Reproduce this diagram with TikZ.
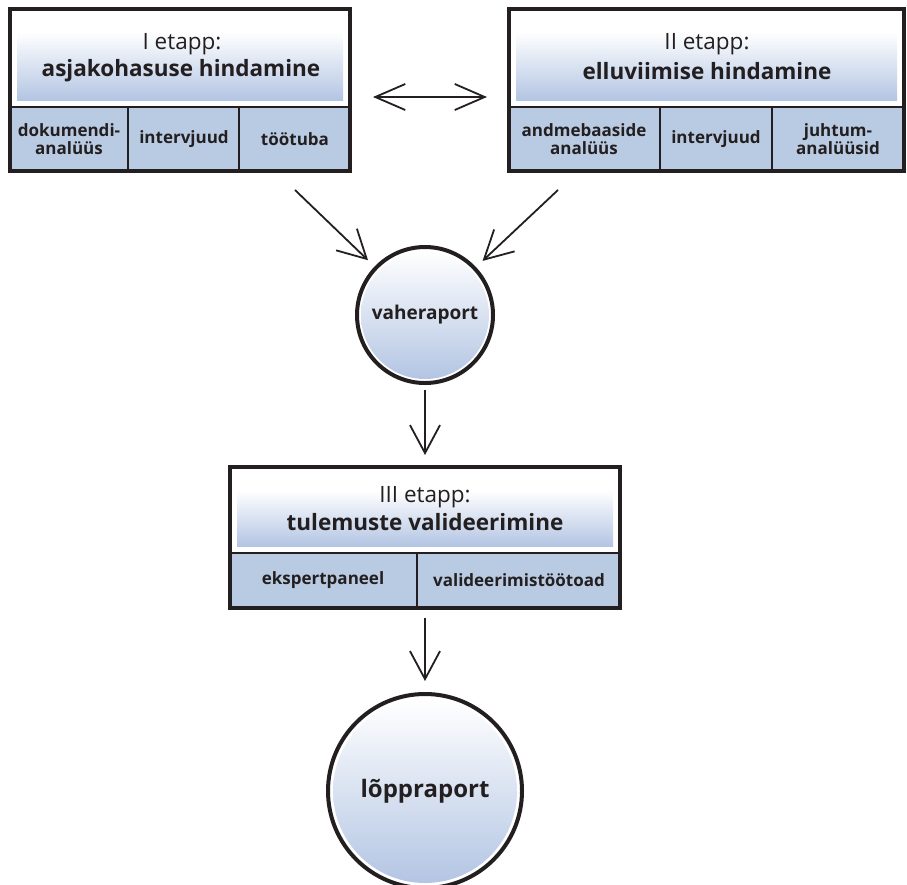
\documentclass[tikz,border=0pt]{standalone}
\usepackage{fontspec}
\setmainfont{Open Sans}
\usetikzlibrary{arrows.meta,positioning,shapes}

\definecolor{cellblue}{HTML}{B9CBE2}
\definecolor{shadeblue}{HTML}{B3C5E3}
\definecolor{ink}{HTML}{231F20}

\tikzset{
	outerbox/.style={line width=4pt, draw=ink},
	cellline/.style={line width=2pt, draw=ink},
	flowarrow/.style={line width=1.8pt, draw=ink, -{Straight Barb[length=28pt,width=30pt,line width=1.8pt]}},
	bothways/.style={line width=1.8pt, draw=ink, {Straight Barb[length=30pt,width=26pt,line width=1.8pt]}-{Straight Barb[length=30pt,width=26pt,line width=1.8pt]}},
	stagetext/.style={font=\fontsize{22.5}{24}\selectfont, text=ink},
	stagename/.style={font=\bfseries\fontsize{22.5}{26}\selectfont, text=ink},
	celltext/.style={font=\bfseries\fontsize{17}{17.5}\selectfont, text=ink, align=center},
	report/.style={circle, draw=ink, line width=4pt, text=ink, font=\bfseries\fontsize{19}{22}\selectfont},
}

\begin{document}
\begin{tikzpicture}[x=1pt,y=-1pt]
						\useasboundingbox (0,0) rectangle (907,884);

						\fill[cellblue] (10,107) rectangle (350,171);
						\shade[top color=white,bottom color=shadeblue] (17,32) rectangle (343,100);
						\draw[cellline] (10,107) -- (350,107);
						\draw[cellline] (128,107) -- (128,171);
						\draw[cellline] (239,107) -- (239,171);
						\draw[outerbox] (10,9) rectangle (350,171);

						\node[stagetext] (t1) at (182,44) {I etapp:};
						\node[stagename] (n1) at (181,71) {asjakohasuse hindamine};
						\node[celltext] (c11) at (69,139) {dokumendi-\\analüüs};
						\node[celltext] (c12) at (184,139) {intervjuud};
						\node[celltext] (c13) at (295,139) {töötuba};

						\fill[cellblue] (509,107) rectangle (904,171);
						\shade[top color=white,bottom color=shadeblue] (516,32) rectangle (897,100);
						\draw[cellline] (509,107) -- (904,107);
						\draw[cellline] (660,107) -- (660,171);
						\draw[cellline] (772,107) -- (772,171);
						\draw[outerbox] (509,9) rectangle (904,171);

						\node[stagetext] (t2) at (707,44) {II etapp:};
						\node[stagename] (n2) at (707,71) {elluviimise hindamine};
						\node[celltext] (c21) at (584,139) {andmebaaside\\analüüs};
						\node[celltext] (c22) at (716,139) {intervjuud};
						\node[celltext] (c23) at (838,139) {juhtum-\\analüüsid};

						\fill[cellblue] (230,553) rectangle (620,608);
						\shade[top color=white,bottom color=shadeblue] (237,490) rectangle (613,546);
						\draw[cellline] (230,553) -- (620,553);
						\draw[cellline] (417,553) -- (417,608);
						\draw[outerbox] (230,467) rectangle (620,608);

						\node[stagetext] (t3) at (425,497) {III etapp:};
						\node[stagename] (n3) at (425,522) {tulemuste valideerimine};
						\node[celltext] (c31) at (323,580) {ekspertpaneel};
						\node[celltext] (c32) at (519,580) {valideerimistöötoad};

						\shade[top color=white,bottom color=shadeblue] (425,315) circle[radius=64pt];
						\node[report, minimum size=136pt] (vahe) at (425,315) {vaheraport};
						\shade[top color=white,bottom color=shadeblue] (425,791) circle[radius=92pt];
						\node[report, minimum size=194pt, font=\bfseries\fontsize{24}{26}\selectfont] (lopp) at (425,791) {lõppraport};

						\coordinate (dl) at (373,97);
						\coordinate (dr) at (487,97);
						\coordinate (s1) at (295,190);
						\coordinate (s2) at (558,190);
						\coordinate (b3top) at (425,467);
						\coordinate (b3bot) at (425,608);

						\draw[bothways] (dl) -- (dr);
						\draw[flowarrow, shorten >=9pt] (s1) -- (vahe);
						\draw[flowarrow, shorten >=9pt] (s2) -- (vahe);
						\draw[flowarrow, shorten <=5pt, shorten >=12pt] (vahe) -- (b3top);
						\draw[flowarrow, shorten <=10pt, shorten >=11pt] (b3bot) -- (lopp);
					\end{tikzpicture}
\end{document}
